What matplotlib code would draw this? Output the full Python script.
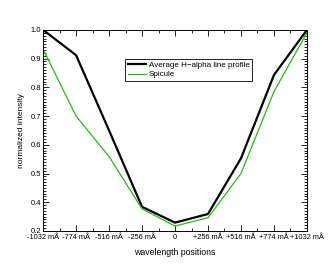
import matplotlib
matplotlib.use('Agg')
import matplotlib.pyplot as plt
from matplotlib.ticker import MultipleLocator

plt.rcParams['font.family'] = ['Liberation Sans', 'DejaVu Sans']

# wavelength positions (equally spaced on the plot)
positions = ['-1032 mÅ', '-774 mÅ', '-516 mÅ', '-256 mÅ', '0',
             '+256 mÅ', '+516 mÅ', '+774 mÅ', '+1032 mÅ']
avg_profile = [1.0, 0.912, 0.65, 0.384, 0.329, 0.359, 0.553, 0.843, 1.0]
spicule = [0.933, 0.70, 0.559, 0.377, 0.317, 0.346, 0.50, 0.785, 0.99]

ytick_vals = [0.3, 0.4, 0.5, 0.6, 0.7, 0.8, 0.9, 1.0]
ytick_labels = ['0.2', '0.4', '0.5', '0.6', '0.7', '0.8', '0.9', '1.0']

fig = plt.figure(figsize=(3.34, 2.67), dpi=100)
ax = fig.add_axes([0.129, 0.135, 0.790, 0.753])

x = list(range(len(positions)))
ax.plot(x, avg_profile, color='black', lw=1.6, label='Average H\u2212alpha line profile')
ax.plot(x, spicule, color='#22bb11', lw=0.9, label='Spicule')

ax.set_xlim(0, len(positions) - 1)
ax.set_ylim(0.3, 1.0)
ax.set_xticks(x)
ax.set_xticklabels(positions, fontsize=5.3)
ax.xaxis.set_minor_locator(MultipleLocator(0.5))
ax.set_yticks(ytick_vals)
ax.set_yticklabels(ytick_labels, fontsize=5.5)
ax.yaxis.set_minor_locator(MultipleLocator(0.01))

ax.tick_params(which='both', direction='in', top=True, right=True, width=0.6)
ax.tick_params(axis='x', pad=2.2)
ax.tick_params(axis='y', pad=1.2)
ax.tick_params(which='major', length=4)
ax.tick_params(which='minor', length=2)
for sp in ax.spines.values():
    sp.set_linewidth(0.7)

ax.set_xlabel('wavelength positions', fontsize=6.3, labelpad=5)
ax.set_ylabel('normalized intensity', fontsize=6, labelpad=4)

leg = ax.legend(loc='upper left', bbox_to_anchor=(0.312, 0.855), fontsize=5.8,
                frameon=True, fancybox=False, edgecolor='black', framealpha=1,
                handlelength=2.2, handletextpad=0.4, borderpad=0.3, labelspacing=0.2,
                borderaxespad=0)
leg.get_frame().set_linewidth(0.6)

fig.savefig('out.png', dpi=100)
